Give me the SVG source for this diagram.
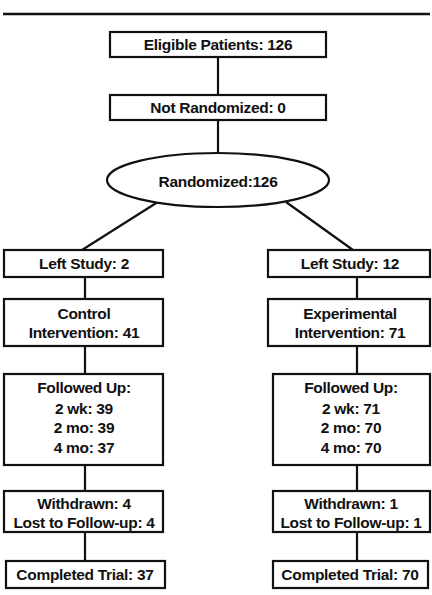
<svg xmlns="http://www.w3.org/2000/svg" width="432" height="595" viewBox="0 0 432 595">
<style>
.box{fill:#fff;stroke:#111;stroke-width:2.2}
.t{font-family:"Liberation Sans",Arial,sans-serif;font-weight:bold;font-size:15.5px;fill:#111;text-anchor:middle;letter-spacing:-0.3px}
.c{stroke:#111;stroke-width:2.2;fill:none}
</style>
<rect width="432" height="595" fill="#fff"/>
<line x1="3" y1="14" x2="430" y2="14" stroke="#111" stroke-width="2.5"/>
<g id="connectors">
<line class="c" x1="218" y1="57" x2="218" y2="95"/>
<line class="c" x1="218" y1="120" x2="218" y2="153"/>
<line class="c" x1="157" y1="202.5" x2="82" y2="250"/>
<line class="c" x1="286" y1="202" x2="353" y2="250"/>
<line class="c" x1="85" y1="277" x2="85" y2="299"/>
<line class="c" x1="85" y1="346" x2="85" y2="374"/>
<line class="c" x1="85" y1="465" x2="85" y2="491"/>
<line class="c" x1="85" y1="532" x2="85" y2="561"/>
<line class="c" x1="357" y1="277" x2="357" y2="299"/>
<line class="c" x1="357" y1="346" x2="357" y2="374"/>
<line class="c" x1="357" y1="465" x2="357" y2="491"/>
<line class="c" x1="357" y1="532" x2="357" y2="561"/>
</g>
<g id="eligible"><rect class="box" x="110" y="32" width="216" height="25"/><text class="t" x="218" y="50">Eligible Patients: 126</text></g>
<g id="notrandomized"><rect class="box" x="110" y="95" width="216" height="25"/><text class="t" x="218" y="113">Not Randomized: 0</text></g>
<g id="randomized"><ellipse class="box" cx="218" cy="180" rx="111" ry="27"/><text class="t" x="218" y="187">Randomized:126</text></g>
<g id="leftstudy-l"><rect class="box" x="4" y="250" width="159" height="27"/><text class="t" x="84" y="269">Left Study: 2</text></g>
<g id="leftstudy-r"><rect class="box" x="268" y="250" width="162" height="27"/><text class="t" x="350" y="269">Left Study: 12</text></g>
<g id="control"><rect class="box" x="4" y="299" width="159" height="47"/><text class="t" x="84" y="319">Control</text><text class="t" x="84" y="338">Intervention: 41</text></g>
<g id="experimental"><rect class="box" x="268" y="299" width="162" height="47"/><text class="t" x="350" y="319">Experimental</text><text class="t" x="350" y="338">Intervention: 71</text></g>
<g id="followed-l"><rect class="box" x="4" y="374" width="159" height="91"/><text class="t" x="84" y="393">Followed Up:</text><text class="t" x="84" y="413.5">2 wk: 39</text><text class="t" x="84" y="433">2 mo: 39</text><text class="t" x="84" y="452.5">4 mo: 37</text></g>
<g id="followed-r"><rect class="box" x="273" y="374" width="157" height="91"/><text class="t" x="351" y="393">Followed Up:</text><text class="t" x="351" y="413.5">2 wk: 71</text><text class="t" x="351" y="433">2 mo: 70</text><text class="t" x="351" y="452.5">4 mo: 70</text></g>
<g id="withdrawn-l"><rect class="box" x="4" y="491" width="159" height="41"/><text class="t" x="84" y="508.5">Withdrawn: 4</text><text class="t" x="84" y="527.5">Lost to Follow-up: 4</text></g>
<g id="withdrawn-r"><rect class="box" x="273" y="491" width="157" height="41"/><text class="t" x="351" y="508.5">Withdrawn: 1</text><text class="t" x="351" y="527.5">Lost to Follow-up: 1</text></g>
<g id="completed-l"><rect class="box" x="6" y="561" width="159" height="27"/><text class="t" x="85" y="580">Completed Trial: 37</text></g>
<g id="completed-r"><rect class="box" x="273" y="561" width="155" height="27"/><text class="t" x="350" y="580">Completed Trial: 70</text></g>
</svg>
